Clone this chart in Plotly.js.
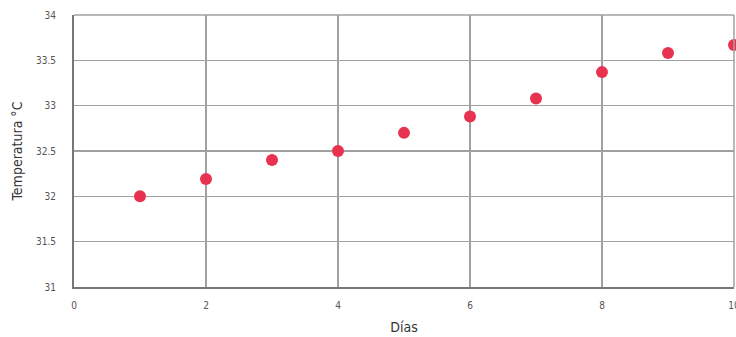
<!DOCTYPE html>
<html><head><meta charset="utf-8">
<script src="https://cdn.plot.ly/plotly-3.0.1.min.js"></script>
<style>html,body{margin:0;padding:0;background:#fff}
#chart text{font-stretch:condensed !important}</style>
</head><body>
<div id="chart" style="width:736px;height:337px"></div>
<script>
const dias = [1, 2, 3, 4, 5, 6, 7, 8, 9, 10];
const temperatura = [32.0, 32.19, 32.40, 32.5, 32.70, 32.88, 33.08, 33.37, 33.58, 33.67];
const xTicks = [0, 2, 4, 6, 8, 10];
const yTicks = [31, 31.5, 32, 32.5, 33, 33.5, 34];

const font = "'DejaVu Sans', sans-serif";
Plotly.newPlot('chart', [{
  x: dias, y: temperatura, type: 'scatter', mode: 'markers',
  marker: {size: 12, color: '#e8324f'}, cliponaxis: false, hoverinfo: 'none'
}], {
  width: 736, height: 337,
  margin: {l: 74, r: 2, t: 15, b: 50},
  paper_bgcolor: '#fff', plot_bgcolor: '#fff',
  showlegend: false,
  font: {family: font, color: '#444'},
  xaxis: {
    range: [0, 10], tickvals: xTicks, ticktext: xTicks.map(String),
    showgrid: true, gridcolor: '#a0a0a0', gridwidth: 1.5,
    showline: true, linecolor: '#777', linewidth: 2, mirror: false,
    ticks: 'outside', ticklen: 8, tickcolor: 'rgba(0,0,0,0)',
    tickfont: {size: 10, color: '#555', family: font},
    ticklabeloverflow: 'allow',
    zeroline: false,
    title: {text: 'Días', font: {size: 14, color: '#333', family: font}, standoff: 12}
  },
  yaxis: {
    range: [31, 34], tickvals: yTicks, ticktext: yTicks.map(String),
    showgrid: true, gridcolor: '#a0a0a0', gridwidth: 1.5,
    showline: true, linecolor: '#777', linewidth: 2,
    ticks: 'outside', ticklen: 14, tickcolor: 'rgba(0,0,0,0)',
    tickfont: {size: 10, color: '#555', family: font},
    zeroline: false,
    title: {text: 'Temperatura °C', font: {size: 14, color: '#333', family: font}, standoff: 8}
  },
  shapes: [
    {type: 'line', xref: 'paper', yref: 'paper', x0: 0, x1: 1, y0: 1, y1: 1, line: {color: '#a0a0a0', width: 1.5}},
    {type: 'line', xref: 'paper', yref: 'paper', x0: 1, x1: 1, y0: 0, y1: 1, line: {color: '#a0a0a0', width: 1.5}}
  ]
}, {staticPlot: true});
</script>
</body></html>
